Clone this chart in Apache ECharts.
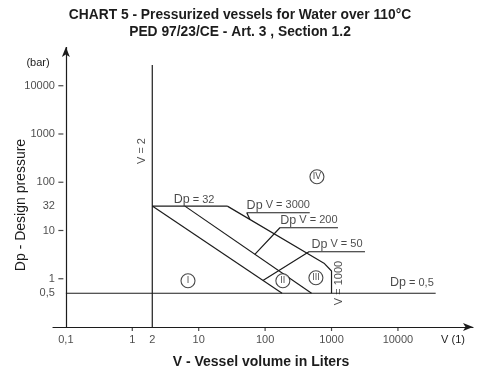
<!DOCTYPE html>
<html>
<head>
<meta charset="utf-8">
<script src="https://cdn.jsdelivr.net/npm/echarts@6/dist/echarts.min.js"></script>
<style>html,body{margin:0;padding:0;background:#fff}#c{width:500px;height:375px}</style>
</head>
<body>
<div id="c"></div>
<script>
// ---- data (V in liters, Dp in bar) ----
const xTicks = [0.1, 1, 2, 10, 100, 1000, 10000];
const xTickLabels = ['0,1', '1', '2', '10', '100', '1000', '10000'];
const xTickMarks = [1, 10, 100, 1000, 10000];
const yTicks = [10000, 1000, 100, 32, 10, 1, 0.5];
const yTickLabels = ['10000', '1000', '100', '32', '10', '1', '0,5'];
const yTickMarks = [10000, 1000, 100, 10, 1];

const lineV2 = [[2, 0.1], [2, 27000]];
const lineDp05 = [[0.1, 0.5], [37000, 0.5]];
const lineDp32 = [[2, 32], [27, 32]];
const lineDpV50 = [[2, 32], [180, 0.5]];
const lineDpV200 = [[6.2, 32], [500, 0.5]];
const lineDpV3000 = [[27, 32], [770, 2.1], [1000, 1.45], [1000, 0.5]];
const leader3000 = [[59, 17], [53, 23.3], [470, 23.3]];
const leader200 = [[70, 3.2], [167, 11.4], [1250, 11.4]];
const leader50 = [[92.7, 0.92], [457, 3.63], [3190, 3.63]];

const regionNames = ['I', 'II', 'III', 'IV'];
const regionV = [6.9, 185, 582, 603];
const regionDp = [0.91, 0.91, 1.05, 130];

const noteTexts = ['Dp = 32', 'Dp V = 3000', 'Dp V = 200', 'Dp V = 50', 'Dp = 0,5'];
const noteV = [8.5, 158, 457, 1208, 16200];
const noteDp = [43.4, 23.3, 11.4, 3.63, 0.83];

const vLabelTexts = ['V = 2', 'V = 1000'];
const vLabelV = [1.395, 1290];
const vLabelDp = [444, 0.816];

const xRange = [0.064, 135000];
const yRange = [0.1, 63500];

// ---- chart ----
const INK = '#1c1c1c';
const FONT = 'Liberation Sans, Arial, sans-serif';
const chart = echarts.init(document.getElementById('c'), null, {renderer: 'canvas'});

function lineSeries(name, data) {
  return {
    name, type: 'line', data, symbol: 'none', silent: true, clip: false,
    lineStyle: {color: INK, width: 1.2}, animation: false, z: 3
  };
}

const noteSeries = {
  type: 'scatter', silent: true, clip: false, symbolSize: 0, animation: false, z: 5,
  data: noteTexts.map((t, i) => ({
    value: [noteV[i], noteDp[i]],
    label: {show: true, formatter: t.replace(/^Dp(.*)$/, '{a|Dp}{b|$1}')}
  })),
  label: {
    position: 'top', distance: 1, color: INK,
    rich: {
      a: {fontFamily: FONT, fontSize: 12.5, color: INK},
      b: {fontFamily: FONT, fontSize: 11, color: INK}
    }
  }
};
noteSeries.data[0].label.position = 'inside';
noteSeries.data[4].label.position = 'inside';

const option = {
  animation: false,
  backgroundColor: '#ffffff',
  grid: {left: 53, right: 27, top: 47, bottom: 48, containLabel: false},
  xAxis: {
    type: 'log', logBase: 10, min: xRange[0], max: xRange[1],
    axisLine: {show: true, symbol: ['none', 'arrow'], symbolSize: [6, 10], lineStyle: {color: INK, width: 1.2}},
    axisTick: {show: false}, axisLabel: {show: false}, splitLine: {show: false}
  },
  yAxis: {
    type: 'log', logBase: 10, min: yRange[0], max: yRange[1],
    axisLine: {show: false}, axisTick: {show: false}, axisLabel: {show: false}, splitLine: {show: false}
  },
  graphic: [
    {type: 'text', x: 240, y: 15, silent: true, style: {text: 'CHART 5 - Pressurized vessels for Water over 110°C', font: 'bold 13.8px ' + FONT, fill: INK, textAlign: 'center', textVerticalAlign: 'middle'}},
    {type: 'text', x: 240, y: 32, silent: true, style: {text: 'PED 97/23/CE - Art. 3 , Section 1.2', font: 'bold 13.8px ' + FONT, fill: INK, textAlign: 'center', textVerticalAlign: 'middle'}},
    {type: 'text', x: 38, y: 63, silent: true, style: {text: '(bar)', font: '11px ' + FONT, fill: INK, textAlign: 'center', textVerticalAlign: 'middle'}},
    {type: 'text', x: 21, y: 205, rotation: Math.PI / 2, silent: true, style: {text: 'Dp - Design pressure', font: '14px ' + FONT, fill: INK, textAlign: 'center', textVerticalAlign: 'middle'}},
    {type: 'text', x: 261, y: 362, silent: true, style: {text: 'V - Vessel volume in Liters', font: 'bold 14px ' + FONT, fill: INK, textAlign: 'center', textVerticalAlign: 'middle'}},
    {type: 'text', x: 453, y: 340, silent: true, style: {text: 'V (1)', font: '11px ' + FONT, fill: INK, textAlign: 'center', textVerticalAlign: 'middle'}}
  ],
  series: [
    {
      type: 'line', data: [], silent: true, animation: false,
      markLine: {
        silent: true, animation: false, symbol: ['none', 'arrow'], symbolSize: [6, 10],
        label: {show: false}, lineStyle: {color: INK, width: 1.2, type: 'solid'},
        data: [[{coord: [0.1, yRange[0]]}, {coord: [0.1, yRange[1]]}]]
      }
    },
    lineSeries('V = 2', lineV2),
    lineSeries('Dp = 0,5', lineDp05),
    lineSeries('Dp = 32', lineDp32),
    lineSeries('Dp V = 50', lineDpV50),
    lineSeries('Dp V = 200', lineDpV200),
    lineSeries('Dp V = 3000', lineDpV3000),
    lineSeries('leader 3000', leader3000),
    lineSeries('leader 200', leader200),
    lineSeries('leader 50', leader50),
    {
      type: 'scatter', silent: true, clip: false, symbolSize: 0, animation: false,
      data: xTicks.map((v, i) => ({value: [v, yRange[0]], label: {formatter: xTickLabels[i]}})),
      label: {show: true, position: 'bottom', distance: 7, fontFamily: FONT, fontSize: 11, color: INK}
    },
    {
      type: 'scatter', silent: true, clip: false, symbolSize: 0, animation: false,
      data: yTicks.map((v, i) => ({value: [0.1, v], label: {formatter: yTickLabels[i]}})),
      label: {show: true, position: 'left', distance: 11, fontFamily: FONT, fontSize: 11, color: INK}
    },
    {
      type: 'scatter', silent: true, clip: false, symbol: 'rect', symbolSize: [1.2, 4], symbolOffset: [0, 2],
      itemStyle: {color: INK}, animation: false,
      data: xTickMarks.map(v => [v, yRange[0]])
    },
    {
      type: 'scatter', silent: true, clip: false, symbol: 'rect', symbolSize: [5, 1.2], symbolOffset: [-5, 0],
      itemStyle: {color: INK}, animation: false,
      data: yTickMarks.map(v => [0.1, v])
    },
    {
      type: 'scatter', silent: true, clip: false, symbol: 'circle', symbolSize: 14, animation: false, z: 6,
      itemStyle: {color: '#ffffff', borderColor: INK, borderWidth: 1.1},
      data: regionNames.map((n, i) => ({value: [regionV[i], regionDp[i]], label: {formatter: n}})),
      label: {show: true, position: 'inside', fontFamily: 'DejaVu Sans Condensed, ' + FONT, fontSize: 9.5, color: INK}
    },
    noteSeries,
    {
      type: 'scatter', silent: true, clip: false, symbolSize: 0, animation: false,
      data: vLabelTexts.map((t, i) => ({value: [vLabelV[i], vLabelDp[i]], label: {formatter: t}})),
      label: {show: true, position: 'inside', rotate: 90, fontFamily: FONT, fontSize: 11, color: INK}
    }
  ]
};
chart.setOption(option);
</script>
</body>
</html>
